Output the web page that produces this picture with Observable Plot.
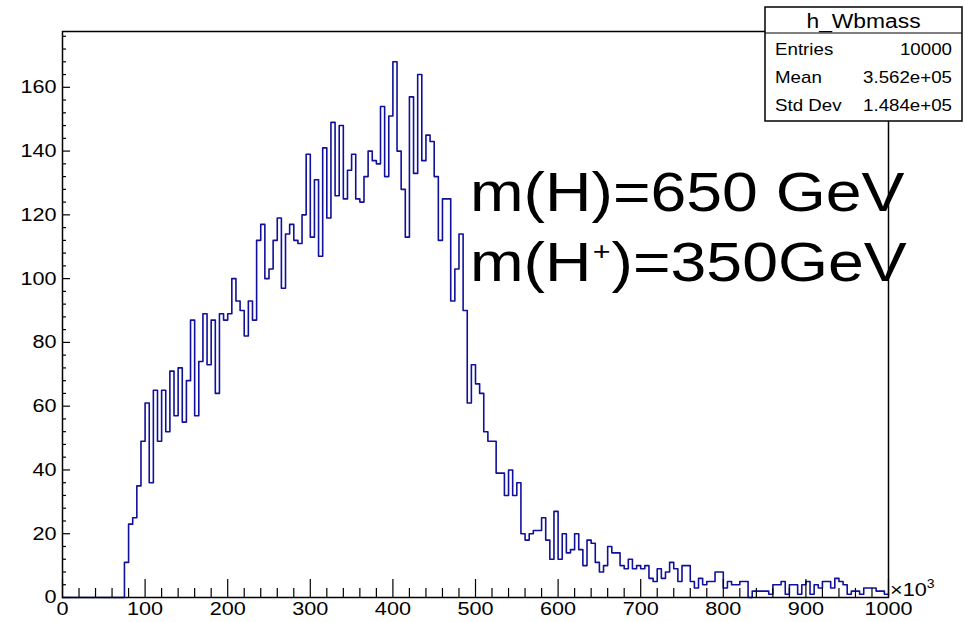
<!DOCTYPE html>
<html>
<head>
<meta charset="utf-8">
<script src="https://cdn.jsdelivr.net/npm/d3@7"></script>
<script src="https://cdn.jsdelivr.net/npm/@observablehq/plot@0.6"></script>
<style>
  html, body { margin: 0; padding: 0; background: #fff; }
  #wrap { position: relative; width: 965px; height: 622px; overflow: hidden; }
  #wrap svg { position: absolute; left: 0; top: 0; }
</style>
</head>
<body>
<div id="wrap"></div>
<script>
// h_Wbmass: reconstructed W+b invariant mass, 200 bins of 5 (x10^3) from 0 to 1000
const histName = "h_Wbmass";
const xMin = 0;
const xMax = 1000;
const binWidth = 5;

// entries per bin, low edge 0, 5, 10, ...
const counts = [
  // 0 - 70
  0, 0, 0, 0, 0, 0, 0, 0, 0, 0, 0, 0, 0, 0, 0,
  // 75 - 185
  11, 23, 25, 35, 49, 61, 36, 65, 49, 65, 52, 71, 57, 72, 55, 68, 87, 57, 74, 89, 73, 87, 64,
  // 190 - 290
  89, 87, 89, 100, 93, 90, 82, 93, 87, 112, 117, 100, 103, 112, 119, 97, 114, 117, 112, 111, 120,
  // 295 - 415
  139, 113, 131, 107, 141, 119, 149, 126, 148, 125, 134, 139, 125, 124, 132, 140, 137, 136, 154, 132, 151, 168, 140, 128, 113,
  // 420 - 505
  157, 133, 164, 137, 145, 143, 132, 112, 125, 125, 93, 103, 114, 90, 61, 73, 67, 64,
  // 510 - 645
  52, 49, 49, 39, 39, 32, 40, 32, 36, 20, 18, 20, 21, 21, 25, 18, 12, 27, 12, 20, 14, 15, 20, 15, 10, 18, 17, 11,
  // 650 - 810
  8, 10, 16, 14, 14, 10, 9, 12, 9, 10, 9, 10, 6, 5, 9, 6, 8, 11, 9, 5, 10, 10, 5, 3, 6, 4, 5, 5, 8, 8, 3, 5, 4,
  // 815 - 995
  4, 5, 5, 0, 2, 2, 2, 2, 1, 4, 4, 5, 1, 4, 4, 1, 4, 5, 1, 4, 3, 5, 5, 3, 6, 5, 4, 1, 2, 2, 1, 3, 3, 3, 2, 2, 1
];

// axis ticks
const xMajorTicks = [0, 100, 200, 300, 400, 500, 600, 700, 800, 900, 1000];
const xMinorTicks = d3.range(0, 1001, 20).filter(v => v % 100 !== 0);
const yMajorTicks = [0, 20, 40, 60, 80, 100, 120, 140, 160];
const yMinorTicks = d3.range(0, 177, 4).filter(v => v % 20 !== 0);
const yMax = 177.5;

// statistics box
const statLabels = ["Entries", "Mean", "Std Dev"];
const statValues = ["10000", "3.562e+05", "1.484e+05"];

// annotation lines
const noteLine1 = "m(H)=650 GeV";
const noteLine2 = ["m(H", "+", ")=350GeV"];

const W = 965, H = 622;
const mL = 62, mR = 77, mT = 31, mB = 25;
const frameW = W - mL - mR, frameH = H - mT - mB;
const font = '"Liberation Sans", Arial, Helvetica, sans-serif';
const stretch = 1.17;
const histColor = "#10109a";

// step outline: one vertex per bin low edge, closed at the upper edge of the last bin
const steps = counts.map((c, i) => ({x: xMin + i * binWidth, y: c}));
steps.push({x: xMax, y: counts[counts.length - 1]});

const chart = Plot.plot({
  width: W,
  height: H,
  marginLeft: mL,
  marginRight: mR,
  marginTop: mT,
  marginBottom: mB,
  style: {fontFamily: font, fontSize: "18.5px", color: "#000", background: "transparent"},
  x: {domain: [xMin, xMax], label: null},
  y: {domain: [0, yMax], label: null},
  marks: [
    Plot.line(steps, {x: "x", y: "y", curve: "step-after", stroke: histColor, strokeWidth: 1.6}),
    // inward ticks drawn along the frame edges
    Plot.tickY(yMajorTicks, {y: d => d, insetRight: frameW - 8, stroke: "#000", strokeWidth: 1.2}),
    Plot.tickY(yMinorTicks, {y: d => d, insetRight: frameW - 4, stroke: "#000", strokeWidth: 1.2}),
    Plot.tickX(xMajorTicks, {x: d => d, insetTop: frameH - 18, stroke: "#000", strokeWidth: 1.2}),
    Plot.tickX(xMinorTicks, {x: d => d, insetTop: frameH - 9, stroke: "#000", strokeWidth: 1.2}),
    Plot.axisY(yMajorTicks, {tickSize: 0, tickPadding: 6, label: null, tickFormat: d => String(d)}),
    Plot.axisX(xMajorTicks, {tickSize: 0, tickPadding: 4, label: null, tickFormat: d => String(d)}),
    Plot.frame({stroke: "#000", strokeWidth: 1.5})
  ]
});

document.getElementById("wrap").appendChild(chart);

// widen the tick labels slightly around their anchor points
d3.select(chart).selectAll('g[aria-label$="tick label"] text').each(function () {
  const t = d3.select(this);
  const tr = t.attr("transform") || "";
  t.attr("transform", tr + ` scale(${stretch},1)`);
});

// overlay: exponent marker, statistics box and annotation
const ov = d3.select("#wrap").append("svg")
  .attr("width", W).attr("height", H)
  .style("font-family", font);

const ex = ov.append("text")
  .attr("transform", `translate(890,596) scale(${stretch},1)`)
  .attr("font-size", 18.5);
ex.append("tspan").text("\u00d710");
ex.append("tspan").attr("dy", -8).attr("font-size", 12).text("3");

const box = ov.append("g");
const bx = 765, by = 7, bw = 197, bh = 114, headH = 26, rowH = 28;
box.append("rect").attr("x", bx).attr("y", by).attr("width", bw).attr("height", bh)
  .attr("fill", "#fff").attr("stroke", "#000").attr("stroke-width", 1.5);
box.append("line").attr("x1", bx).attr("x2", bx + bw).attr("y1", by + headH).attr("y2", by + headH)
  .attr("stroke", "#000").attr("stroke-width", 1.2);
box.append("text")
  .attr("transform", `translate(${bx + bw / 2},${by + 21}) scale(${stretch},1)`)
  .attr("text-anchor", "middle").attr("font-size", 19.5).text(histName);
statLabels.forEach((lab, i) => {
  const yb = by + headH + 22 + i * rowH;
  box.append("text")
    .attr("transform", `translate(${bx + 10},${yb}) scale(${stretch},1)`)
    .attr("font-size", 16).text(lab);
  box.append("text")
    .attr("transform", `translate(${bx + bw - 10},${yb}) scale(${stretch},1)`)
    .attr("text-anchor", "end").attr("font-size", 16).text(statValues[i]);
});

ov.append("text")
  .attr("transform", `translate(470,211) scale(${stretch},1)`)
  .attr("font-size", 55).text(noteLine1);
const note2 = ov.append("text")
  .attr("transform", `translate(470,281) scale(${stretch},1)`)
  .attr("font-size", 55);
note2.append("tspan").text(noteLine2[0]);
note2.append("tspan").attr("dy", -21).attr("dx", 1).attr("font-size", 26).text(noteLine2[1]);
note2.append("tspan").attr("dy", 21).attr("dx", 1).text(noteLine2[2]);
</script>
</body>
</html>
